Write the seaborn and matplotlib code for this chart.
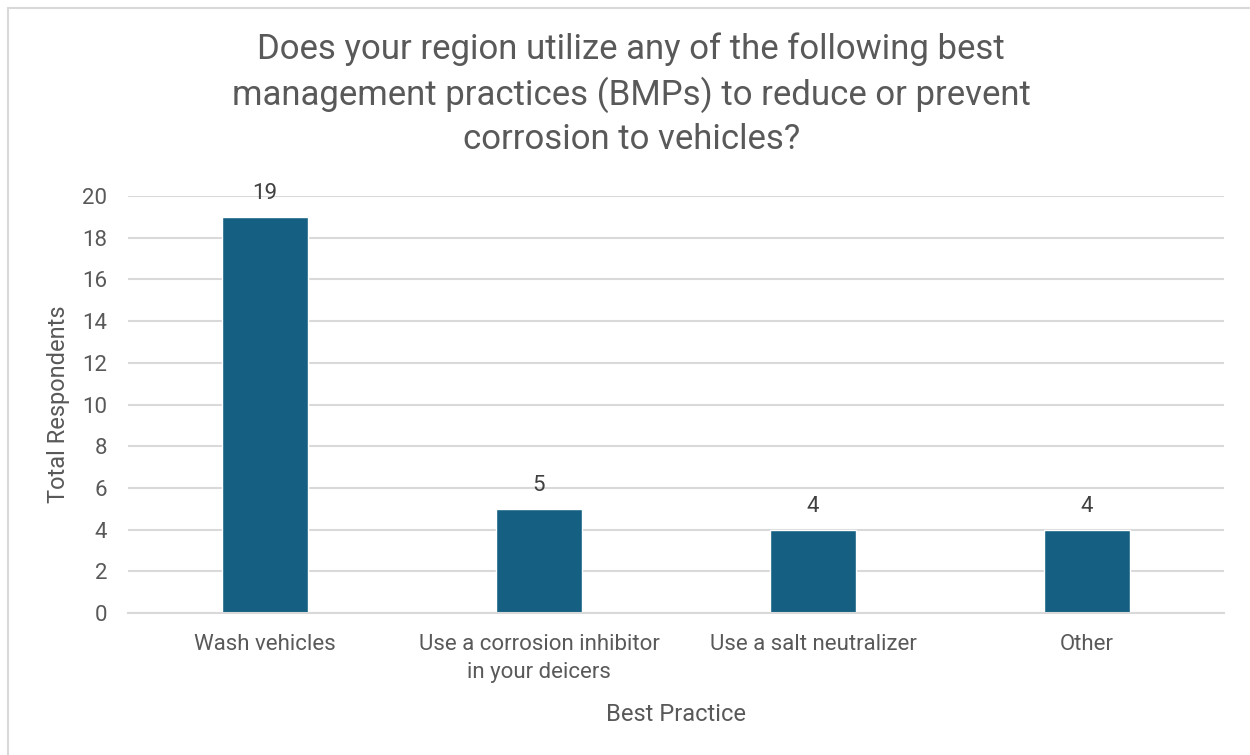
import matplotlib
matplotlib.use("Agg")
import matplotlib.pyplot as plt
import seaborn as sns
import pandas as pd
from matplotlib.patches import Rectangle

categories = ["Wash vehicles", "Use a corrosion inhibitor\nin your deicers", "Use a salt neutralizer", "Other"]
values = [19, 5, 4, 4]
yticks = [0, 2, 4, 6, 8, 10, 12, 14, 16, 18, 20]

sns.set_theme(style="white")
plt.rcParams['font.family'] = ['Roboto', 'DejaVu Sans']

df = pd.DataFrame({"cat": categories, "val": values})
fig = plt.figure(figsize=(12.5, 7.55), dpi=100)
ax = fig.add_axes([0.1024, 0.188, 0.8768, 0.5524])
sns.barplot(data=df, x="cat", y="val", color="#156082", width=0.314, ax=ax, saturation=1)

ax.set_ylim(0, 20)
ax.set_xlim(-0.5, 3.5)
ax.set_yticks(yticks)
ax.yaxis.grid(True, color="#d9d9d9", linewidth=1.5)
ax.set_axisbelow(True)
for s in ["top", "right", "left"]:
    ax.spines[s].set_visible(False)
ax.spines["bottom"].set_color("#d9d9d9")
ax.spines["bottom"].set_linewidth(1.5)
ax.tick_params(axis="both", length=0, labelsize=16, colors="#595959")
ax.tick_params(axis="y", pad=15)
ax.tick_params(axis="x", pad=15)
for lbl in ax.get_xticklabels():
    lbl.set_linespacing(1.45)
ax.set_xlabel("Best Practice", fontsize=17, color="#595959", labelpad=14)
ax.set_ylabel("Total Respondents", fontsize=17, color="#595959", labelpad=9)

for i, v in enumerate(values):
    ax.text(i, v + 0.6, str(v), ha="center", va="bottom", fontsize=16, color="#404040")

fig.text(0.505, 0.957, "Does your region utilize any of the following best\nmanagement practices (BMPs) to reduce or prevent\ncorrosion to vehicles?",
         ha="center", va="top", fontsize=25, color="#595959", linespacing=1.38)

fig.patches.append(Rectangle((0.0064, -0.01), 1.1, 1.0, transform=fig.transFigure,
                             fill=False, edgecolor="#d9d9d9", linewidth=1.5))

fig.savefig("out.png", dpi=100, facecolor="white")
